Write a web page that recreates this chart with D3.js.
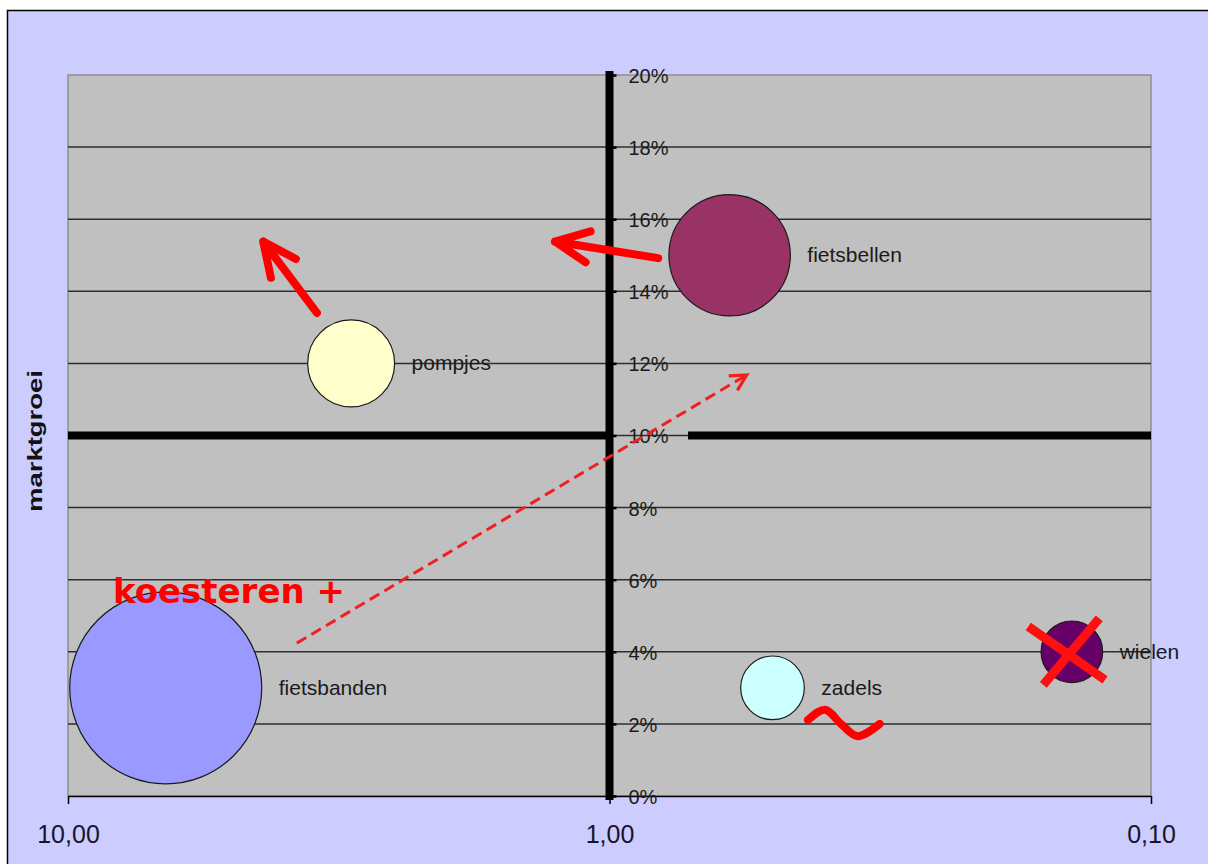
<!DOCTYPE html>
<html><head><meta charset="utf-8">
<script src="https://cdn.jsdelivr.net/npm/d3@7"></script>
<style>html,body{margin:0;padding:0;background:#fff;overflow:hidden;} svg{display:block}</style>
</head><body><svg id="chart" width="1208" height="864"></svg>
<script>
// ---- data ----
const products = ["fietsbanden", "pompjes", "fietsbellen", "zadels", "wielen"];
const marktaandeel = [6.6, 3.0, 0.6, 0.5, 0.14];      // relatief marktaandeel (log, reversed)
const marktgroei = [0.03, 0.12, 0.15, 0.03, 0.04];    // marktgroei
const omzet = [100, 20.5, 40, 11, 10.3];              // bubble size
const bubbleColors = ["#9999FF", "#FFFFCC", "#993366", "#CCFFFF", "#660066"];
const xTicks = [10, 1, 0.1];
const xTickLabels = ["10,00", "1,00", "0,10"];
const yTicks = [0, 0.02, 0.04, 0.06, 0.08, 0.10, 0.12, 0.14, 0.16, 0.18, 0.20];
const yTitle = "marktgroei";

// annotations, in data coordinates [marktaandeel, marktgroei]
const quadrantLines = [
  [[1, 0.2], [1, 0]],
  [[10, 0.1], [1, 0.1]],
  [[0.716, 0.1], [0.1, 0.1]]
];
const solidArrows = [
  [[3.47, 0.134], [4.36, 0.1538]],
  [[0.813, 0.1492], [1.261, 0.1538]]
];
const dashedArrow = [[3.78, 0.0424], [0.558, 0.1168]];
const tildePoints = [[0.430, 0.0211], [0.400, 0.0239], [0.372, 0.0197], [0.348, 0.0166], [0.317, 0.0200]];
const crossLines = [
  [[0.1685, 0.0470], [0.1216, 0.0322]],
  [[0.1581, 0.0308], [0.1246, 0.0493]]
];
const noteText = { text: "koesteren +", pos: [8.26, 0.0535] };

// ---- layout ----
const svg = d3.select("#chart");
const x = d3.scaleLog().domain([10, 0.1]).range([68, 1151]);
const y = d3.scaleLinear().domain([0, 0.2]).range([796, 75]);
const r = d3.scaleSqrt().domain([0, d3.max(omzet)]).range([0, 96]);

// outer frame
svg.append("rect").attr("x", 7.5).attr("y", 10.5).attr("width", 1400).attr("height", 1000)
  .attr("fill", "#CCCCFF").attr("stroke", "#000").attr("stroke-width", 1.5);

// plot area
svg.append("rect").attr("x", x(10)).attr("y", y(0.2))
  .attr("width", x(0.1) - x(10)).attr("height", y(0) - y(0.2))
  .attr("fill", "#C0C0C0").attr("stroke", "#808080").attr("stroke-width", 1.2);

// gridlines
svg.append("g").selectAll("line").data(yTicks.filter(d => d > 0 && d < 0.2)).join("line")
  .attr("x1", x(10)).attr("x2", x(0.1))
  .attr("y1", d => y(d)).attr("y2", d => y(d))
  .attr("stroke", "#2e2e2e").attr("stroke-width", 1.5);

// x axis
const xAxis = d3.axisBottom(x).tickValues(xTicks).tickFormat((d, i) => xTickLabels[i])
  .tickSize(8).tickPadding(21).tickSizeOuter(0);
const gx = svg.append("g").attr("transform", `translate(0,${y(0)})`).call(xAxis);
gx.select(".domain").attr("stroke", "#000").attr("stroke-width", 1.5);
gx.selectAll(".tick line").attr("stroke", "#000").attr("stroke-width", 1.5);
gx.selectAll(".tick text").attr("font-family", "Liberation Sans, Arial, sans-serif")
  .attr("font-size", 25).attr("fill", "#15152a");

// quadrant lines (thick)
const lineGen = d3.line().x(d => x(d[0])).y(d => y(d[1]));
svg.append("g").selectAll("path").data(quadrantLines).join("path")
  .attr("d", lineGen).attr("fill", "none").attr("stroke", "#000")
  .attr("stroke-width", 8).attr("stroke-linecap", (d, i) => i === 0 ? "square" : "butt");

// y axis (crossing at 1,00)
const yAxis = d3.axisRight(y).tickValues(yTicks).tickFormat(d3.format(".0%"))
  .tickSize(7).tickPadding(12).tickSizeOuter(0);
const gy = svg.append("g").attr("transform", `translate(${x(1)},0)`).call(yAxis);
gy.select(".domain").remove();
gy.selectAll(".tick line").attr("stroke", "#000").attr("stroke-width", 2.5);
gy.selectAll(".tick text").attr("font-family", "Liberation Sans, Arial, sans-serif")
  .attr("font-size", 20).attr("fill", "#1a1a1a").attr("dy", "0.37em");

// y title
svg.append("text").attr("transform", `translate(42,441) rotate(-90)`)
  .attr("text-anchor", "middle")
  .attr("font-family", "Liberation Sans, Arial, sans-serif").attr("font-weight", "bold")
  .attr("font-size", 21).attr("fill", "#111")
  .attr("textLength", 142).attr("lengthAdjust", "spacingAndGlyphs")
  .text(yTitle);

// bubbles
const data = products.map((p, i) => ({ name: p, xv: marktaandeel[i], yv: marktgroei[i], s: omzet[i], c: bubbleColors[i] }));
svg.append("g").selectAll("circle").data(data).join("circle")
  .attr("cx", d => x(d.xv)).attr("cy", d => y(d.yv)).attr("r", d => r(d.s))
  .attr("fill", d => d.c).attr("stroke", "#1a1a1a").attr("stroke-width", 1.2);

svg.append("g").selectAll("text").data(data).join("text")
  .attr("x", d => x(d.xv) + r(d.s) + 17).attr("y", d => y(d.yv) + 7)
  .attr("font-family", "Liberation Sans, Arial, sans-serif").attr("font-size", 21)
  .attr("fill", "#1a1a1a").text(d => d.name);

// annotations
function arrowHead(tail, tip, len, ang) {
  const tx = x(tail[0]), ty = y(tail[1]), px = x(tip[0]), py = y(tip[1]);
  const a = Math.atan2(ty - py, tx - px);
  const b1 = [px + len * Math.cos(a + ang), py + len * Math.sin(a + ang)];
  const b2 = [px + len * Math.cos(a - ang), py + len * Math.sin(a - ang)];
  return `M${b1[0]},${b1[1]}L${px},${py}L${b2[0]},${b2[1]}`;
}
const ann = svg.append("g");
solidArrows.forEach(([tail, tip]) => {
  ann.append("path").attr("d", lineGen([tail, tip]) + arrowHead(tail, tip, 37, 25 * Math.PI / 180))
    .attr("fill", "none").attr("stroke", "#FF0000").attr("stroke-width", 8)
    .attr("stroke-linecap", "round").attr("stroke-linejoin", "round");
});
ann.append("path").attr("d", lineGen(dashedArrow))
  .attr("fill", "none").attr("stroke", "#F02020").attr("stroke-width", 3)
  .attr("stroke-dasharray", "11,6");
ann.append("path").attr("d", arrowHead(dashedArrow[0], dashedArrow[1], 18, 28 * Math.PI / 180))
  .attr("fill", "none").attr("stroke", "#F02020").attr("stroke-width", 3.2);

ann.append("path").attr("d", d3.line().x(d => x(d[0])).y(d => y(d[1])).curve(d3.curveCatmullRom)(tildePoints))
  .attr("fill", "none").attr("stroke", "#FF0000").attr("stroke-width", 8).attr("stroke-linecap", "round");

ann.selectAll(".cross").data(crossLines).join("path").attr("class", "cross")
  .attr("d", lineGen).attr("stroke", "#FF1010").attr("stroke-width", 9).attr("fill", "none");

ann.append("text").attr("x", x(noteText.pos[0])).attr("y", y(noteText.pos[1]))
  .attr("font-family", "DejaVu Sans, Verdana, sans-serif").attr("font-weight", "bold")
  .attr("font-size", 34).attr("fill", "#FF0000").attr("xml:space", "preserve")
  .text(noteText.text);
</script>
</body></html>
